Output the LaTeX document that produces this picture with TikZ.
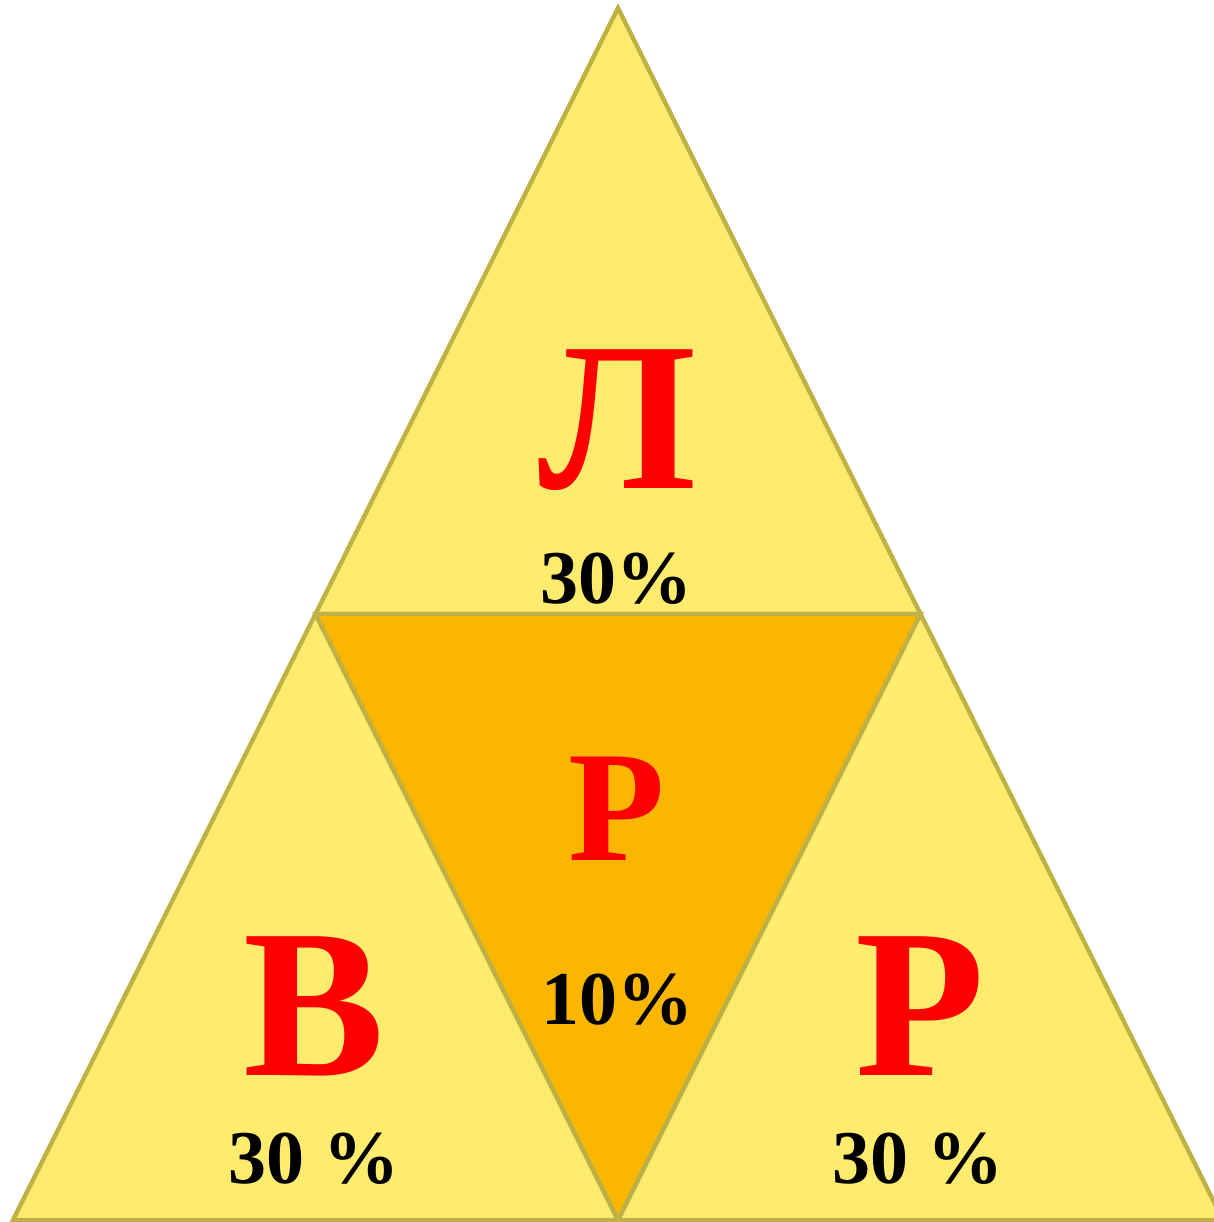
\documentclass[tikz,border=0pt]{standalone}
\usepackage{fontspec}
\setmainfont{Liberation Serif}
\usetikzlibrary{calc}

\definecolor{triyellow}{RGB}{255,236,110}
\definecolor{triorange}{RGB}{250,182,0}
\definecolor{triedge}{RGB}{190,178,70}
\definecolor{letterred}{RGB}{255,0,0}

\begin{document}
\begin{tikzpicture}[
  x=0.5pt, y=-0.5pt,
  every node/.style={align=center, inner sep=0pt, anchor=base},
  part/.style ={draw=triedge, line width=2.2pt, line join=miter, fill=triyellow},
  core/.style ={draw=triedge, line width=2.2pt, line join=miter, fill=triorange},
  letter/.style={text=letterred, font=\bfseries\fontsize{106}{106}\selectfont},
  small/.style ={text=letterred, font=\bfseries\fontsize{79}{79}\selectfont},
  share/.style ={text=black, font=\bfseries\fontsize{38}{38}\selectfont},
]
\useasboundingbox (0,0) rectangle (1214,1222);

% corners and midpoints
\coordinate (top) at (618,8);
\coordinate (bl)  at (13,1220);
\coordinate (br)  at (1223,1220);
\coordinate (ml)  at ($(top)!0.5!(bl)$);
\coordinate (mr)  at ($(top)!0.5!(br)$);
\coordinate (mb)  at ($(bl)!0.5!(br)$);

% four triangles
\draw[part] (top) -- (ml) -- (mr) -- cycle;
\draw[part] (ml) -- (bl) -- (mb) -- cycle;
\draw[part] (mr) -- (mb) -- (br) -- cycle;
\draw[core] (ml) -- (mr) -- (mb) -- cycle;

% letters
\node[letter] (l)  at (617,488)  {Л};
\node[small]  (r1) at (617,860)  {Р};
\node[letter] (v)  at (314,1075) {В};
\node[letter] (r2) at (920,1075) {Р};

% shares
\node[share] (pl)  at (616,603)  {30\%};
\node[share] (pr1) at (617,1024) {10\%};
\node[share] (pv)  at (314,1183) {30 \%};
\node[share] (pr2) at (918,1183) {30 \%};

\end{tikzpicture}
\end{document}
